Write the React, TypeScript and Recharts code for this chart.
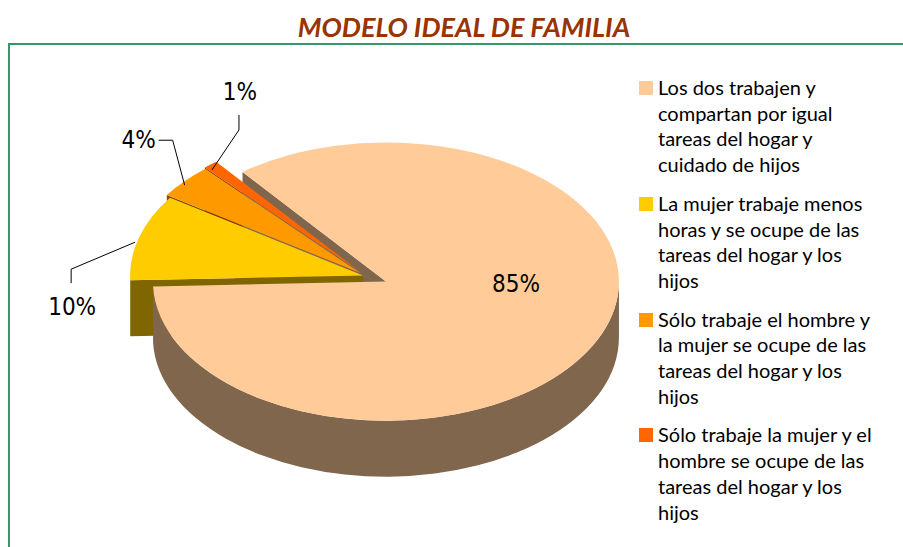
import React from 'react';
import { PieChart, Pie, Cell, Legend } from 'recharts';

const categories = [
  'Los dos trabajen y compartan por igual tareas del hogar y cuidado de hijos',
  'La mujer trabaje menos horas y se ocupe de las tareas del hogar y los hijos',
  'Sólo trabaje el hombre y la mujer se ocupe de las tareas del hogar y los hijos',
  'Sólo trabaje la mujer y el hombre se ocupe de las tareas del hogar y los hijos',
];
const values = [85, 10, 4, 1];
const percentLabels = ['85%', '10%', '4%', '1%'];

const data = categories.map((name, i) => ({ name, value: values[i] }));

const topColors = ['#FFCC99', '#FFCC00', '#FF9900', '#FF6600'];
const sideColors = ['#80664D', '#806600', '#804D00', '#803300'];
// how far each slice is pulled out of the pie
const explode = [22, 3, 8, 10];

// leader line / text offsets from the rim point at the slice's mid angle
const labelLayout: any[] = [
  { text: [130, 2.4], anchor: 'middle' },
  { start: [-4, 5], elbow: [-68, 32], end: [-68, 46], text: [-67, 70], anchor: 'middle' },
  { start: [0, 4], elbow: [-12, -41], end: [-26, -41], text: [-29, -41], anchor: 'end' },
  { start: [1.5, 5.4], elbow: [28.5, -34.6], end: [28.5, -49.6], text: [29.5, -72.6], anchor: 'middle' },
];

const RAD = Math.PI / 180;
const RATIO = 0.597; // vertical squash of the tilted pie
const DEPTH = 56;

const slice = (p: any) => {
  const e = explode[p.index];
  const ox = p.cx + e * Math.cos(p.midAngle * RAD);
  const oy = p.cy - e * Math.sin(p.midAngle * RAD) * RATIO;
  const r = p.outerRadius;
  const a1 = Math.min(p.startAngle, p.endAngle);
  const a2 = Math.max(p.startAngle, p.endAngle);
  const pt = (a: number, dz = 0) => [
    ox + r * Math.cos(a * RAD),
    oy - r * RATIO * Math.sin(a * RAD) + dz,
  ];
  return { ox, oy, r, ry: r * RATIO, a1, a2, pt };
};

// radial faces that look towards the viewer
const wallsFor = (which: (i: number) => boolean) => (p: any) => {
  if (!which(p.index)) return <g />;
  const s = slice(p);
  const walls: number[] = [];
  if (Math.cos(s.a2 * RAD) < 0) walls.push(s.a2);
  if (Math.cos(s.a1 * RAD) > 0) walls.push(s.a1);
  const d = walls
    .map((a) => {
      const [x, y] = s.pt(a);
      return `M${s.ox},${s.oy}L${x},${y}L${x},${y + DEPTH}L${s.ox},${s.oy + DEPTH}Z`;
    })
    .join('');
  return <path d={d || 'M0,0'} fill={sideColors[p.index]} />;
};
const renderBackWalls = wallsFor((i) => i >= 2);
const renderFrontWalls = wallsFor((i) => i < 2);

// outer curved side, front half only
const renderRim = (p: any) => {
  const s = slice(p);
  const parts: string[] = [];
  for (let k = Math.floor(s.a1 / 360) - 1; k <= Math.ceil(s.a2 / 360); k++) {
    const lo = Math.max(s.a1, 180 + 360 * k);
    const hi = Math.min(s.a2, 360 + 360 * k);
    if (hi > lo) {
      const [x1, y1] = s.pt(lo);
      const [x2, y2] = s.pt(hi);
      const [x3, y3] = s.pt(hi, DEPTH);
      const [x4, y4] = s.pt(lo, DEPTH);
      const large = hi - lo > 180 ? 1 : 0;
      parts.push(
        `M${x1},${y1}A${s.r},${s.ry} 0 ${large} 0 ${x2},${y2}L${x3},${y3}A${s.r},${s.ry} 0 ${large} 1 ${x4},${y4}Z`
      );
    }
  }
  return <path d={parts.join('') || 'M0,0'} fill={sideColors[p.index]} />;
};

const renderTop = (p: any) => {
  const s = slice(p);
  const [x1, y1] = s.pt(s.a1);
  const [x2, y2] = s.pt(s.a2);
  const large = s.a2 - s.a1 > 180 ? 1 : 0;
  return (
    <path
      d={`M${s.ox},${s.oy}L${x1},${y1}A${s.r},${s.ry} 0 ${large} 0 ${x2},${y2}Z`}
      fill={topColors[p.index]}
    />
  );
};

const labelFont = {
  fontFamily: "'Liberation Sans Narrow', 'DejaVu Sans Condensed', sans-serif",
  fontSize: 24,
  fill: '#000',
};

const renderText = (p: any) => {
  const i = p.index;
  const L = labelLayout[i];
  const s = slice(p);
  if (!L.start) {
    return (
      <text x={s.ox + L.text[0]} y={s.oy + L.text[1]} textAnchor="middle" dominantBaseline="central" {...labelFont}>
        {percentLabels[i]}
      </text>
    );
  }
  const [ax, ay] = s.pt(p.midAngle);
  const P = (o: number[]) => `${ax + o[0]},${ay + o[1]}`;
  return (
    <g>
      <polyline points={`${P(L.start)} ${P(L.elbow)} ${P(L.end)}`} fill="none" stroke="#000" strokeWidth={1} />
      <text x={ax + L.text[0]} y={ay + L.text[1]} textAnchor={L.anchor} dominantBaseline="central" {...labelFont}>
        {percentLabels[i]}
      </text>
    </g>
  );
};

const renderLegend = (props: any) => {
  const seen: Record<string, boolean> = {};
  const items = (props.payload || []).filter((p: any) => {
    if (p.type === 'none' || seen[p.value]) return false;
    seen[p.value] = true;
    return true;
  });
  items.sort((a: any, b: any) => categories.indexOf(a.value) - categories.indexOf(b.value));
  return (
    <div style={{ fontFamily: 'Lato, sans-serif', fontSize: 20, lineHeight: '25.7px', color: '#000' }}>
      {items.map((p: any) => {
        const i = categories.indexOf(p.value);
        return (
          <div key={p.value} style={{ display: 'flex', marginBottom: 13 }}>
            <span style={{ width: 14, height: 14, background: topColors[i], marginTop: 6, flex: 'none' }} />
            <span style={{ marginLeft: 5, width: 218 }}>{p.value}</span>
          </div>
        );
      })}
    </div>
  );
};

const pieProps: any = {
  data,
  dataKey: 'value',
  nameKey: 'name',
  cx: 366,
  cy: 276,
  outerRadius: 233,
  startAngle: 128,
  endAngle: -232,
  isAnimationActive: false,
  labelLine: false,
  stroke: 'none',
  fillOpacity: 0,
};

export default function App() {
  return (
    <div style={{ position: 'absolute', left: 0, top: 0, width: 903, height: 547, background: '#fff', overflow: 'hidden' }}>
      <div
        style={{
          position: 'absolute',
          left: 8,
          top: 43,
          right: 0,
          bottom: 0,
          borderTop: '2px solid #339966',
          borderLeft: '2px solid #339966',
        }}
      />
      <div
        style={{
          position: 'absolute',
          left: 214,
          top: 10,
          width: 500,
          textAlign: 'center',
          fontFamily: 'Lato, sans-serif',
          fontWeight: 700,
          fontStyle: 'italic',
          fontSize: 27,
          lineHeight: '34px',
          color: '#993300',
        }}
      >
        MODELO IDEAL DE FAMILIA
      </div>
      <div style={{ position: 'absolute', left: 0, top: 0 }}>
        <PieChart width={903} height={547} margin={{ top: 0, right: 0, bottom: 0, left: 0 }}>
          <Pie {...pieProps} label={renderBackWalls}>
            {data.map((d, i) => (
              <Cell key={d.name} fill={topColors[i]} />
            ))}
          </Pie>
          <Pie {...pieProps} label={renderFrontWalls} legendType="none" />
          <Pie {...pieProps} label={renderRim} legendType="none" />
          <Pie {...pieProps} label={renderTop} legendType="none" />
          <Pie {...pieProps} label={renderText} legendType="none" />
          <Legend
            layout="vertical"
            align="right"
            verticalAlign="middle"
            content={renderLegend}
            wrapperStyle={{ left: 639, top: 75, right: 'auto', bottom: 'auto', width: 250 }}
          />
        </PieChart>
      </div>
    </div>
  );
}
